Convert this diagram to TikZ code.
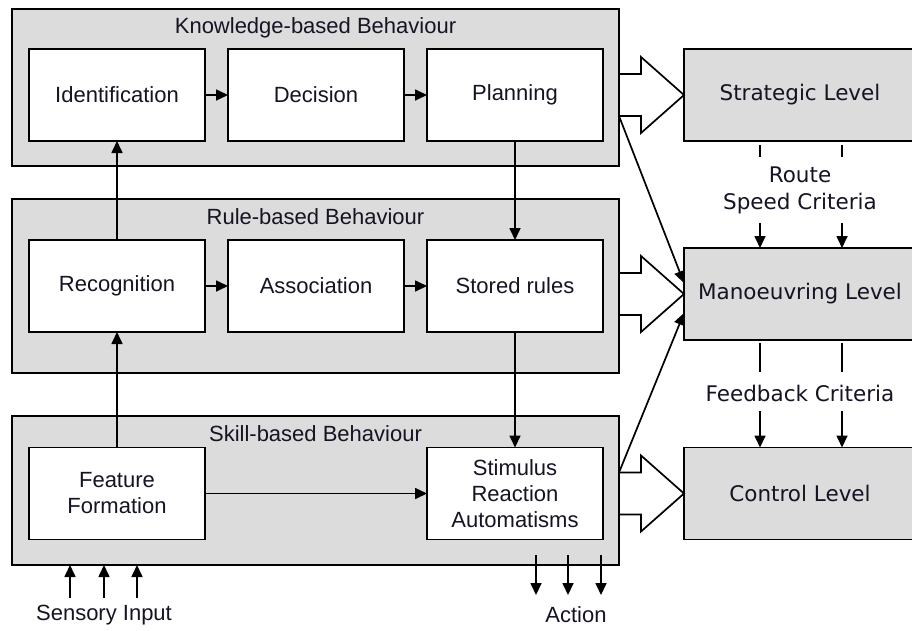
\documentclass[tikz,border=0pt]{standalone}
\usepackage{fontspec}
\setmainfont{Liberation Sans}
\newfontfamily\verdfont{DejaVu Sans}
\usetikzlibrary{arrows.meta,calc}
\definecolor{panelgray}{RGB}{220,220,220}
\definecolor{txt}{RGB}{20,20,35}
\begin{document}
\begin{tikzpicture}[x=1pt,y=-1pt,line width=1.7pt,
  panel/.style={draw,fill=panelgray,outer sep=0pt,inner sep=0pt},
  title/.style={inner sep=0pt,text=txt,font=\fontsize{22}{26}\selectfont},
  proc/.style={draw,fill=white,minimum width=176pt,minimum height=92pt,outer sep=0pt,inner sep=0pt,align=center,text=txt,font=\fontsize{22}{26}\selectfont},
  level/.style={draw,fill=panelgray,minimum width=232pt,minimum height=92pt,outer sep=0pt,inner sep=0pt,text=txt,font=\verdfont\fontsize{21.5}{26}\selectfont},
  lab/.style={inner sep=0pt,align=center,text=txt,font=\verdfont\fontsize{21.5}{27}\selectfont},
  plain/.style={inner sep=0pt,text=txt,font=\fontsize{22}{26}\selectfont},
  arr/.style={-{Triangle[length=12pt,width=11pt]}},
  fat/.style={draw,line join=miter}]
\useasboundingbox (0,0) rectangle (912,630);
% panels
\node[panel,minimum width=607pt,minimum height=157pt] (kb) at (315.5,87.5) {};
\node[panel,minimum width=607pt,minimum height=174pt] (rb) at (315.5,286) {};
\node[panel,minimum width=607pt,minimum height=149pt] (sb) at (315.5,490.5) {};
\node[title] (kbt) at (315.5,28) {Knowledge-based Behaviour};
\node[title] (rbt) at (315.5,217) {Rule-based Behaviour};
\node[title] (sbt) at (315.5,434) {Skill-based Behaviour};
% process boxes
\node[proc] (ident) at (117,95) {Identification};
\node[proc] (decis) at (316,95) {Decision};
\node[proc] (plan) at (515,95) {Planning};
\node[proc] (recog) at (117,286) {Recognition};
\node[proc] (assoc) at (316,286) {Association};
\node[proc] (rules) at (515,286) {Stored rules};
\node[proc] (feat) at (117,493.5) {Feature\\Formation};
\node[proc] (stim) at (515,493.5) {Stimulus\\Reaction\\Automatisms};
% levels
\node[level] (strat) at (800,95) {Strategic Level};
\node[level] (man) at (800,294) {Manoeuvring Level};
\node[level] (ctrl) at (800,493.5) {Control Level};
% internal arrows
\draw[arr] (ident) -- (decis);
\draw[arr] (decis) -- (plan);
\draw[arr] (recog) -- (assoc);
\draw[arr] (assoc) -- (rules);
\draw[arr] (feat) -- (stim);
\draw[arr] (feat) -- (recog);
\draw[arr] (recog) -- (ident);
\draw[arr] (plan) -- (rules);
\draw[arr] (rules) -- (stim);
% fat arrows
\draw[fat] ($(kb.east |- strat.west)+(0,-21)$) -- ++(22,0) -- ++(0,-17) -- (strat.west) -- ++(-43,38) -- ++(0,-17) -- ++(-22,0);
\draw[fat] ($(rb.east |- man.west)+(0,-21)$) -- ++(22,0) -- ++(0,-17) -- (man.west) -- ++(-43,38) -- ++(0,-17) -- ++(-22,0);
\draw[fat] ($(sb.east |- ctrl.west)+(0,-21)$) -- ++(22,0) -- ++(0,-17) -- (ctrl.west) -- ++(-43,38) -- ++(0,-17) -- ++(-22,0);
% diagonals
\draw[arr] ($(kb.east |- strat.west)+(0,21)$) -- ($(man.west)+(0,-11)$);
\draw[arr] ($(sb.east |- ctrl.west)+(0,-21)$) -- ($(man.west)+(0,19)$);
% right side links
\coordinate (ta1) at (760,145); \coordinate (tb1) at (760,157);
\coordinate (ta2) at (842,145); \coordinate (tb2) at (842,157);
\coordinate (tc1) at (760,223); \coordinate (tc2) at (842,223);
\draw (ta1) -- (tb1);
\draw (ta2) -- (tb2);
\draw[arr] (tc1) -- (tc1 |- man.north);
\draw[arr] (tc2) -- (tc2 |- man.north);
\coordinate (ua1) at (760,343); \coordinate (ub1) at (760,372);
\coordinate (ua2) at (842,343); \coordinate (ub2) at (842,372);
\coordinate (uc1) at (760,411); \coordinate (uc2) at (842,411);
\draw (ua1) -- (ub1);
\draw (ua2) -- (ub2);
\draw[arr] (uc1) -- (uc1 |- ctrl.north);
\draw[arr] (uc2) -- (uc2 |- ctrl.north);
\node[lab] (rsc) at (800,190) {Route\\Speed Criteria};
\node[lab] (fbc) at (800,393) {Feedback Criteria};
% sensory input
\coordinate (s1) at (70,598); \coordinate (s2) at (104,598); \coordinate (s3) at (137,598);
\draw[arr] (s1) -- (s1 |- sb.south);
\draw[arr] (s2) -- (s2 |- sb.south);
\draw[arr] (s3) -- (s3 |- sb.south);
\node[plain] (sens) at (104,615) {Sensory Input};
% action
\coordinate (a1) at (536,555); \coordinate (a2) at (568,555); \coordinate (a3) at (601,555);
\coordinate (e1) at (536,595); \coordinate (e2) at (568,595); \coordinate (e3) at (601,595);
\draw[arr] (a1) -- (e1);
\draw[arr] (a2) -- (e2);
\draw[arr] (a3) -- (e3);
\node[plain] (act) at (576,615) {Action};
\end{tikzpicture}
\end{document}
